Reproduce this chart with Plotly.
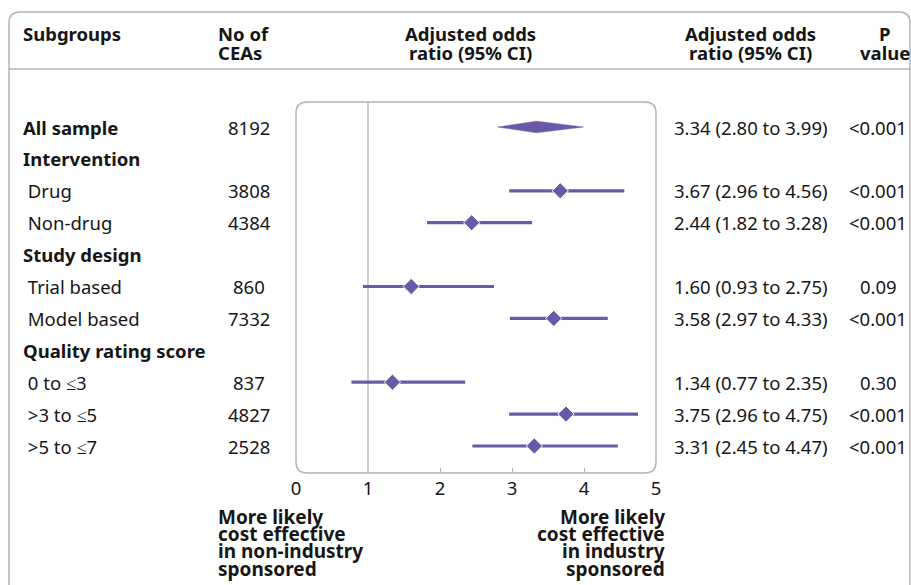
import plotly.graph_objects as go

# ---------------- data ----------------
labels = ["All sample", "Intervention", "Drug", "Non-drug", "Study design",
          "Trial based", "Model based", "Quality rating score",
          "0 to ≤3", ">3 to ≤5", ">5 to ≤7"]
is_header = [True, True, False, False, True, False, False, True, False, False, False]
n_ceas = [8192, None, 3808, 4384, None, 860, 7332, None, 837, 4827, 2528]
odds = [3.34, None, 3.67, 2.44, None, 1.60, 3.58, None, 1.34, 3.75, 3.31]
ci_lo = [2.80, None, 2.96, 1.82, None, 0.93, 2.97, None, 0.77, 2.96, 2.45]
ci_hi = [3.99, None, 4.56, 3.28, None, 2.75, 4.33, None, 2.35, 4.75, 4.47]
p_vals = ["<0.001", None, "<0.001", "<0.001", None, "0.09", "<0.001", None,
          "0.30", "<0.001", "<0.001"]
x_ticks = [0, 1, 2, 3, 4, 5]
left_note = ["More likely", "cost effective", "in non-industry", "sponsored"]
right_note = ["More likely", "cost effective", "in industry", "sponsored"]

# ---------------- geometry (pixels) ----------------
FW, FH = 911, 585
L, R, T, B = 296, 656, 102, 473
W, H = R - L, B - T
ROW0, ROWH = 127, 31.9

def px(x):
    return (x - L) / W

def py(y):
    return (B - y) / H

PURPLE = "#6b58a6"
GREY = "#b4b4b4"
TXT = "#161616"
FONT = "Noto Sans"
FS = 18.5

rows = list(range(len(labels)))
fig = go.Figure()

# All-sample summary diamond
i0 = 0
d = 5.8 / ROWH
fig.add_trace(go.Scatter(
    x=[ci_lo[i0], odds[i0], ci_hi[i0], odds[i0], ci_lo[i0]],
    y=[i0, i0 - d, i0, i0 + d, i0],
    fill="toself", fillcolor=PURPLE, mode="lines",
    line=dict(color=PURPLE, width=0.5), hoverinfo="skip", showlegend=False))

# Subgroup estimates with CI
sx, sy, ep, em = [], [], [], []
for i in rows:
    if odds[i] is not None and i != i0:
        sx.append(odds[i]); sy.append(i)
        ep.append(ci_hi[i] - odds[i]); em.append(odds[i] - ci_lo[i])
fig.add_trace(go.Scatter(
    x=sx, y=sy, mode="markers",
    marker=dict(symbol="diamond", size=12.5, color=PURPLE,
                line=dict(color="white", width=1)),
    error_x=dict(type="data", symmetric=False, array=ep, arrayminus=em,
                 color=PURPLE, thickness=3.2, width=0),
    showlegend=False))

shapes = []
# outer rounded box (open at bottom, below view)
ox0, ox1, oy0 = 9, 910, 12
rx, ry = 11 / W, 11 / H
shapes.append(dict(
    type="path", xref="paper", yref="paper", layer="below",
    path=(f"M{px(ox0)},{py(620)} L{px(ox0)},{py(oy0) - ry} "
          f"Q{px(ox0)},{py(oy0)} {px(ox0) + rx},{py(oy0)} "
          f"L{px(ox1) - rx},{py(oy0)} Q{px(ox1)},{py(oy0)} {px(ox1)},{py(oy0) - ry} "
          f"L{px(ox1)},{py(620)}"),
    line=dict(color=GREY, width=1.5)))
# header separator
shapes.append(dict(type="line", xref="paper", yref="paper", layer="below",
                   x0=px(ox0), x1=px(ox1), y0=py(69), y1=py(69),
                   line=dict(color=GREY, width=1.5)))
# plot rounded box
shapes.append(dict(
    type="path", xref="paper", yref="paper", layer="below",
    path=(f"M0,{ry} L0,{1 - ry} Q0,1 {rx},1 L{1 - rx},1 Q1,1 1,{1 - ry} "
          f"L1,{ry} Q1,0 {1 - rx},0 L{rx},0 Q0,0 0,{ry} Z"),
    line=dict(color=GREY, width=1.5)))
# reference line at OR = 1
shapes.append(dict(type="line", xref="x", yref="paper", layer="below",
                   x0=1, x1=1, y0=0, y1=1, line=dict(color=GREY, width=1.3)))

ann = []

def text(x, y, s, anchor="left", bold=False, yref="paper", size=FS):
    ann.append(dict(x=x, y=y, xref="paper", yref=yref, text=f"<b>{s}</b>" if bold else s,
                    showarrow=False, xanchor=anchor, yanchor="middle",
                    font=dict(family=FONT, size=size, color=TXT)))

# header
text(px(21), py(34), "Subgroups", bold=True)
text(px(216), py(34), "No of", bold=True)
text(px(216), py(52), "CEAs", bold=True)
text(px(470), py(34), "Adjusted odds", "center", bold=True)
text(px(470), py(52), "ratio (95% CI)", "center", bold=True)
text(px(750), py(34), "Adjusted odds", "center", bold=True)
text(px(750), py(52), "ratio (95% CI)", "center", bold=True)
text(px(885), py(34), "P", "center", bold=True)
text(px(885), py(52), "value", "center", bold=True)

# rows
for i in rows:
    lab = labels[i] if is_header[i] else "\u00a0" + labels[i]
    text(px(21), i, lab, bold=is_header[i], yref="y")
    if n_ceas[i] is not None:
        text(px(249), i, str(n_ceas[i]), "center", yref="y")
    if odds[i] is not None:
        text(px(672), i, f"{odds[i]:.2f} ({ci_lo[i]:.2f} to {ci_hi[i]:.2f})", yref="y")
        text(px(878), i, p_vals[i], "center", yref="y")

# bottom notes
for k, (a, b) in enumerate(zip(left_note, right_note)):
    yy = 517 + 17.2 * k
    text(px(216), py(yy), a, bold=True, size=19)
    text(px(667), py(yy), b, "right", bold=True, size=19)

fig.update_layout(
    width=FW, height=FH,
    margin=dict(l=L, r=FW - R, t=T, b=FH - B, pad=0),
    paper_bgcolor="white", plot_bgcolor="white",
    shapes=shapes, annotations=ann,
    xaxis=dict(range=[0, 5], tickvals=x_ticks, ticktext=[str(v) for v in x_ticks],
               ticks="", showgrid=False, zeroline=False, showline=False,
               ticklabelstandoff=2,
               tickfont=dict(family=FONT, size=FS, color=TXT),
               minor=dict(tickvals=[2, 3, 4], ticks="inside", ticklen=5,
                          tickcolor=GREY, tickwidth=1.3),
               fixedrange=True),
    yaxis=dict(range=[(B - ROW0) / ROWH, (T - ROW0) / ROWH], showticklabels=False,
               showgrid=False, zeroline=False, showline=False, ticks="",
               fixedrange=True),
    showlegend=False,
)

fig.write_html("out.html", config={"displayModeBar": False},
               post_script="document.body.style.margin='0';document.body.style.overflow='hidden';")
